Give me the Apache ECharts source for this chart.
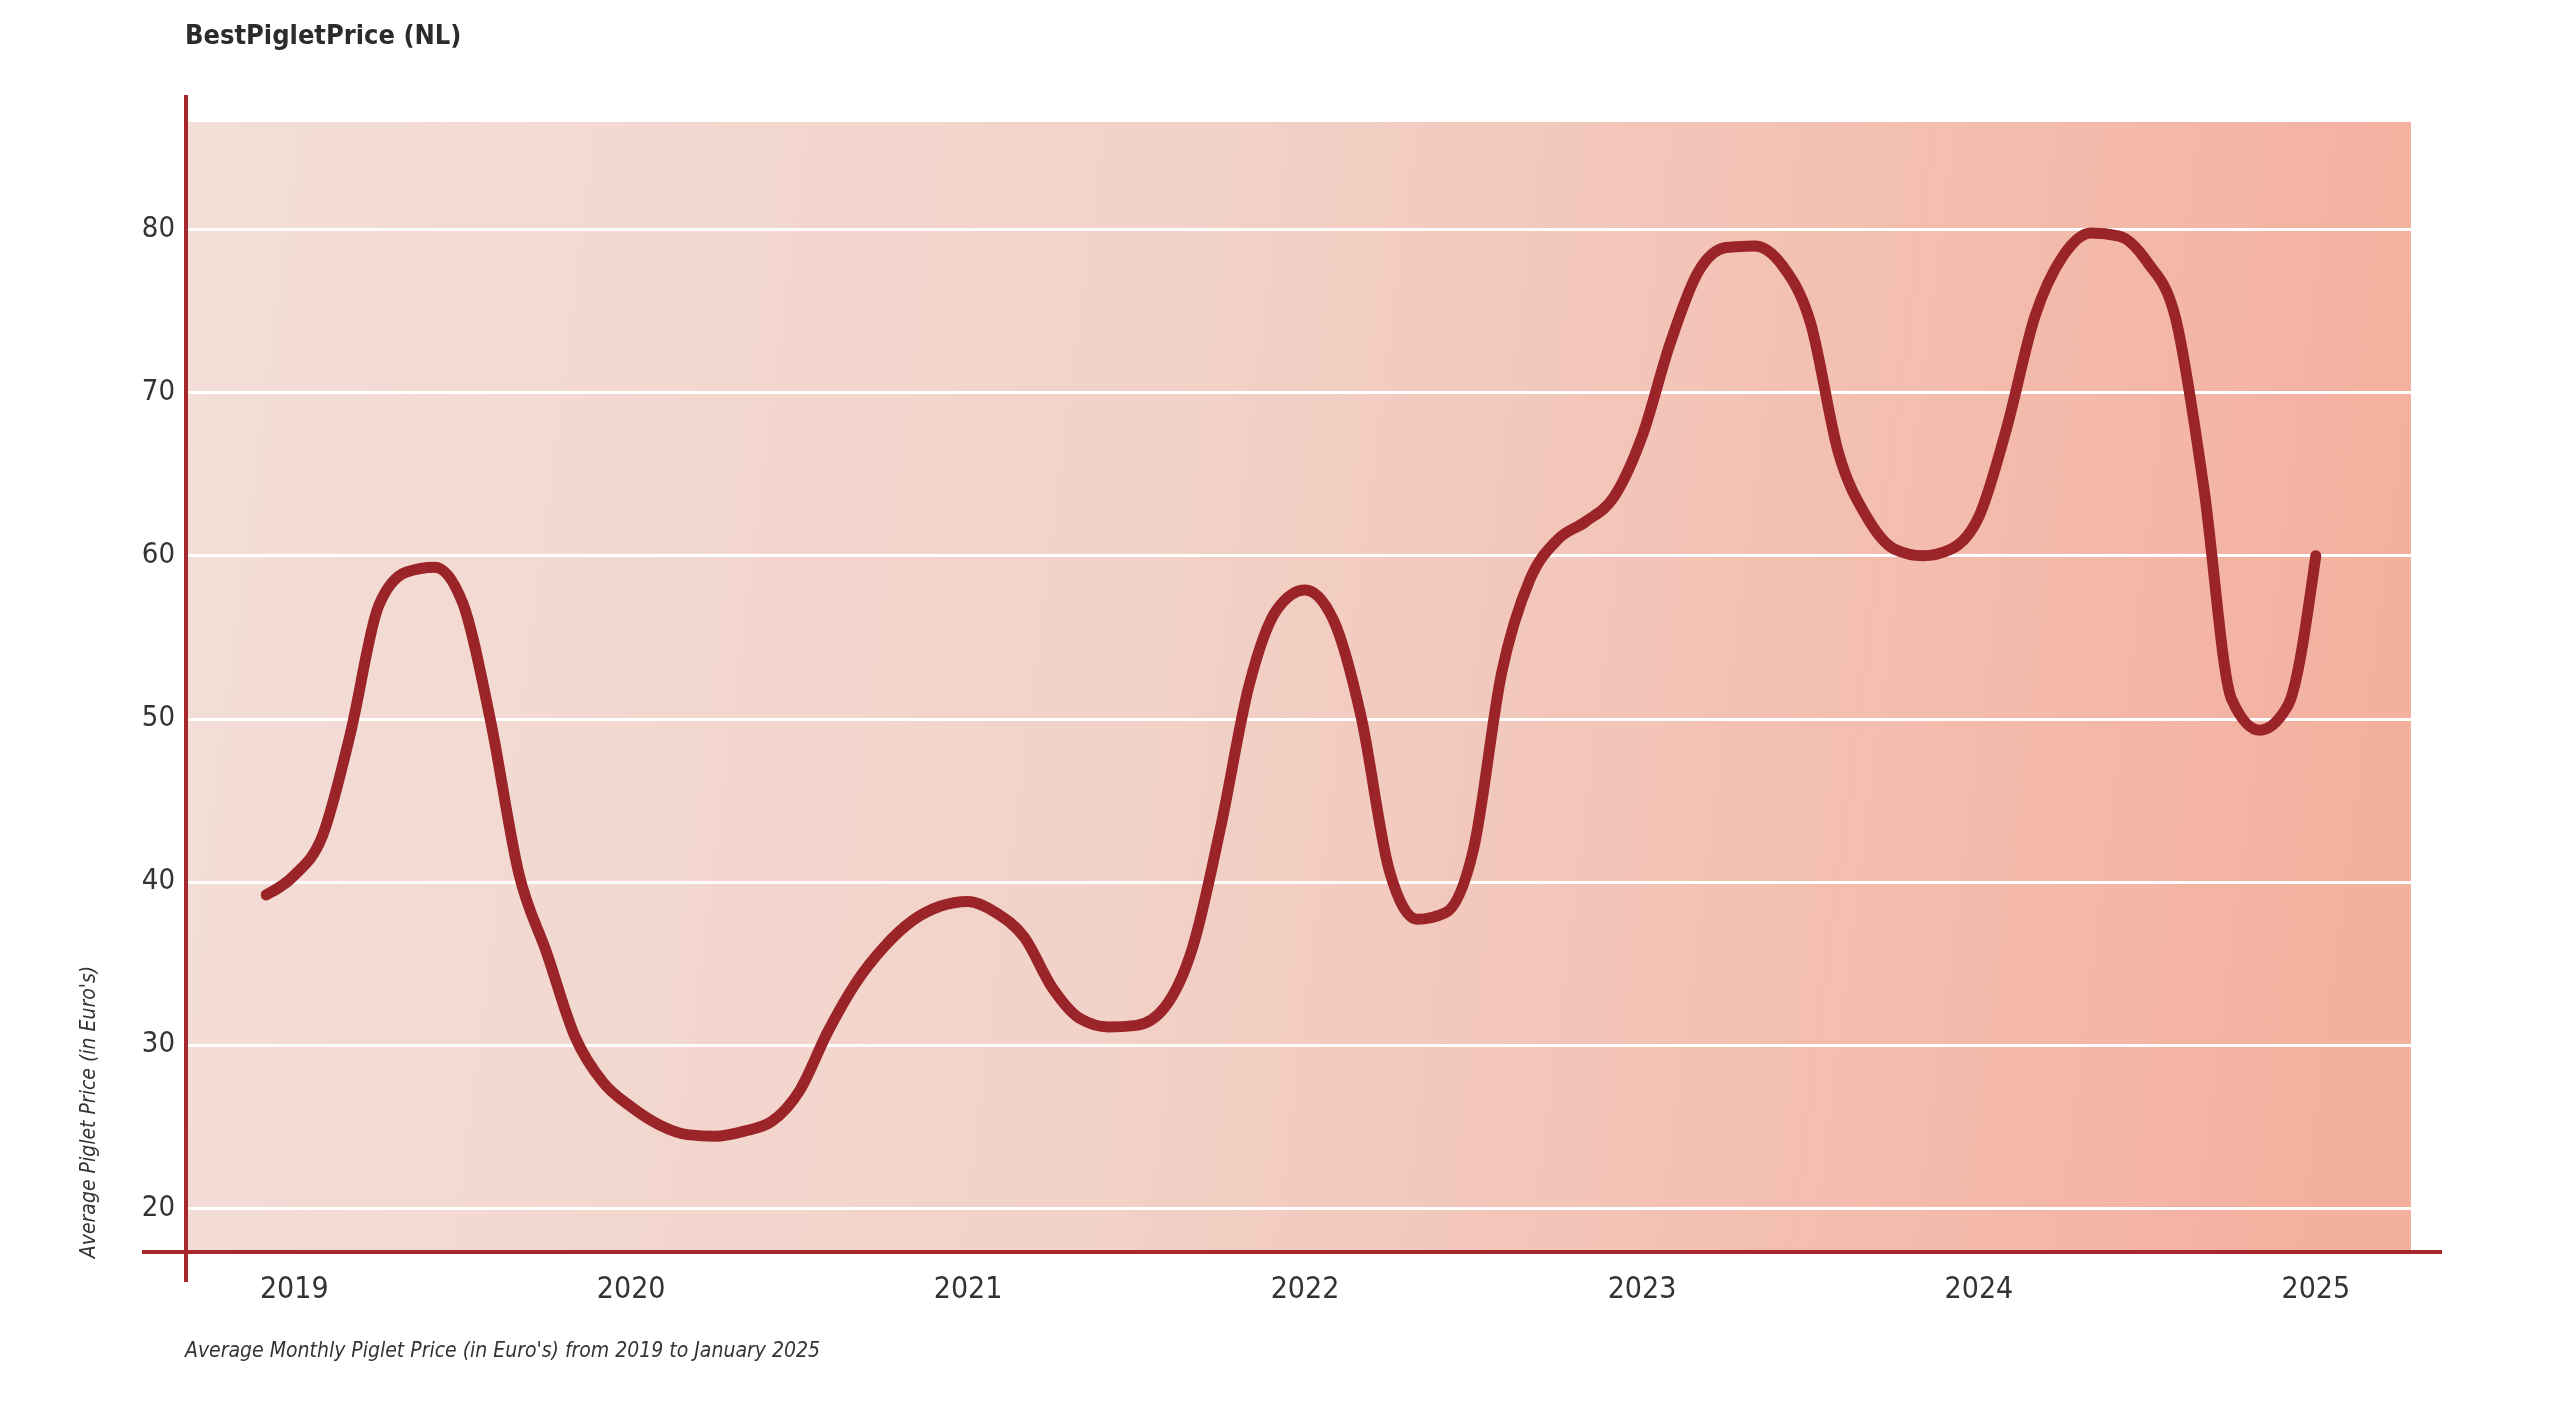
<!DOCTYPE html>
<html>
<head>
<meta charset="utf-8">
<script src="https://cdn.jsdelivr.net/npm/echarts@6/dist/echarts.min.js"></script>
<style>
html,body{margin:0;padding:0;background:#ffffff;}
#chart{width:2560px;height:1425px;}
</style>
</head>
<body>
<div id="chart"></div>
<script>
// ---- data ----
const chartTitle = 'BestPigletPrice (NL)';
const footnote = "Average Monthly Piglet Price (in Euro's) from 2019 to January 2025";
const yAxisTitle = "Average Piglet Price (in Euro's)";
const firstMonthOffset = -1; // first point is December 2018 (months relative to January 2019)
const prices = [
  39.2, 40.4, 42.8, 49.1, 56.9, 59.0, 59.3, 57.1, 49.8, 40.5, 35.6, 30.5,
  27.7, 26.2, 25.1, 24.5, 24.4, 24.7, 25.3, 27.2, 30.8, 33.8, 36.0, 37.6,
  38.5, 38.8, 38.1, 36.6, 33.5, 31.6, 31.1, 31.2, 32.3, 36.0, 43.4, 52.0,
  56.7, 57.9, 56.1, 50.1, 40.7, 37.7, 38.1, 42.0, 52.8, 58.5, 61.0, 62.1,
  63.6, 67.3, 73.0, 77.4, 78.9, 79.0, 77.8, 74.3, 66.3, 62.4, 60.4, 60.0,
  60.4, 62.4, 67.9, 74.7, 78.4, 79.8, 79.6, 78.0, 74.6, 64.3, 51.2, 49.3,
  50.8, 60.0
];
const yearLabels = ['2019', '2020', '2021', '2022', '2023', '2024', '2025'];
const yTickValues = [20, 30, 40, 50, 60, 70, 80];

// ---- build (x = months since January 2019) ----
const seriesData = prices.map((v, i) => [firstMonthOffset + i, v]);
const yearTicks = yearLabels.map(y => (Number(y) - 2019) * 12);

const NARROW = "'Liberation Sans Narrow', 'Arial Narrow', 'DejaVu Sans Condensed', Roboto, sans-serif";
const AXIS_RED = '#a6282c';

// monotone cubic path (monotone-x curve) through pixel points given by the axes
function monotonePath(pts) {
  const n = pts.length;
  const t = new Array(n).fill(0);
  for (let i = 1; i < n - 1; i++) {
    const h0 = pts[i][0] - pts[i - 1][0], h1 = pts[i + 1][0] - pts[i][0];
    const s0 = (pts[i][1] - pts[i - 1][1]) / h0, s1 = (pts[i + 1][1] - pts[i][1]) / h1;
    const p = (s0 * h1 + s1 * h0) / (h0 + h1);
    t[i] = (Math.sign(s0) + Math.sign(s1)) * Math.min(Math.abs(s0), Math.abs(s1), 0.5 * Math.abs(p)) || 0;
  }
  if (n > 2) {
    t[0] = (3 * (pts[1][1] - pts[0][1]) / (pts[1][0] - pts[0][0]) - t[1]) / 2;
    t[n - 1] = (3 * (pts[n - 1][1] - pts[n - 2][1]) / (pts[n - 1][0] - pts[n - 2][0]) - t[n - 2]) / 2;
  }
  let d = 'M' + pts[0][0] + ' ' + pts[0][1];
  for (let i = 0; i < n - 1; i++) {
    const x0 = pts[i][0], y0 = pts[i][1], x1 = pts[i + 1][0], y1 = pts[i + 1][1];
    const dx = (x1 - x0) / 3;
    d += ' C' + (x0 + dx) + ' ' + (y0 + dx * t[i]) + ' ' + (x1 - dx) + ' ' + (y1 - dx * t[i + 1]) + ' ' + x1 + ' ' + y1;
  }
  return d;
}

const chart = echarts.init(document.getElementById('chart'), null, {renderer: 'canvas'});
chart.setOption({
  backgroundColor: '#ffffff',
  animation: false,
  title: [
    {
      text: chartTitle,
      left: 180, top: 18,
      textStyle: {fontFamily: NARROW, fontWeight: 'bold', fontSize: 27, color: '#2b2b2b'}
    },
    {
      text: footnote,
      left: 180, top: 1336,
      textStyle: {fontFamily: NARROW, fontStyle: 'italic', fontWeight: 'normal', fontSize: 21, color: '#333333'}
    }
  ],
  grid: {
    left: 187, right: 149, top: 122, bottom: 173,
    show: true, borderWidth: 0,
    backgroundColor: {
      type: 'linear', x: 0, y: 0, x2: 1, y2: 0.25,
      colorStops: [
        {offset: 0, color: '#f3ded8'},
        {offset: 0.45, color: '#f2d2c8'},
        {offset: 1, color: '#f4b09f'}
      ]
    }
  },
  xAxis: {
    type: 'value',
    min: -3.82,
    max: 75.39,
    axisLine: {show: false},
    axisTick: {show: false, customValues: yearTicks},
    splitLine: {show: false},
    axisLabel: {
      customValues: yearTicks,
      formatter: v => yearLabels[Math.round(v / 12)],
      fontFamily: NARROW, fontSize: 30, color: '#333333', margin: 23
    }
  },
  yAxis: {
    type: 'value',
    min: 17.3, max: 86.6,
    axisLine: {show: false},
    axisTick: {show: false, customValues: yTickValues},
    axisLabel: {
      customValues: yTickValues,
      fontFamily: NARROW, fontSize: 29, color: '#333333', margin: 12
    },
    splitLine: {show: true, lineStyle: {color: '#ffffff', width: 3}}
  },
  graphic: [
    {type: 'line', z: 10, shape: {x1: 186, y1: 95, x2: 186, y2: 1282}, style: {stroke: AXIS_RED, lineWidth: 4}},
    {type: 'line', z: 10, shape: {x1: 142, y1: 1252, x2: 2442, y2: 1252}, style: {stroke: AXIS_RED, lineWidth: 4}},
    {type: 'text', z: 10, x: 90, y: 1112, rotation: Math.PI / 2,
     style: {text: yAxisTitle, fontFamily: NARROW, fontStyle: 'italic', fontSize: 21, fill: '#333333', align: 'center', verticalAlign: 'middle'}}
  ],
  series: [{
    type: 'custom',
    coordinateSystem: 'cartesian2d',
    data: seriesData,
    encode: {x: 0, y: 1},
    silent: true,
    z: 3,
    renderItem: function (params, api) {
      if (params.dataIndex !== 0) return null;
      const pts = seriesData.map(d => api.coord(d));
      return {
        type: 'path',
        shape: {pathData: monotonePath(pts)},
        style: {fill: 'none', stroke: '#9b2428', lineWidth: 11, lineCap: 'round', lineJoin: 'round'}
      };
    }
  }]
});
</script>
</body>
</html>
